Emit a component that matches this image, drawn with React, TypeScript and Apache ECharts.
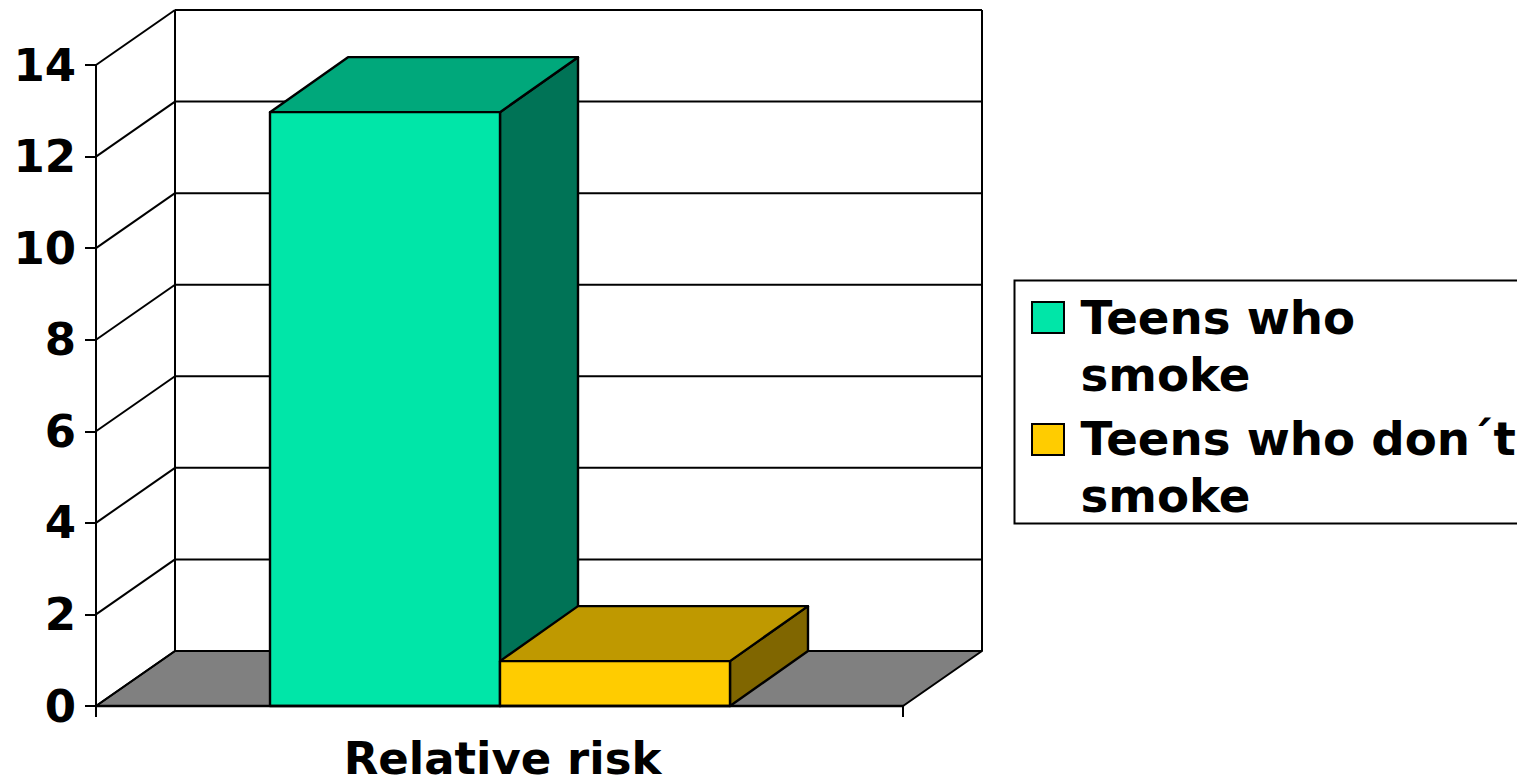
import React, { useEffect, useRef } from "react";
import * as echarts from "echarts";

const categories = ["Relative risk"];
const yMin = 0;
const yMax = 14;
const yStep = 2;
const gridValues = [0, 2, 4, 6, 8, 10, 12, 14];
const smokeValues = [12.97];
const nonSmokeValues = [0.98];
const smokeName = "Teens who smoke";
const nonSmokeName = "Teens who don´t smoke";
const legendLines = [
  ["Teens who", "smoke"],
  ["Teens who don´t", "smoke"],
];
const smokeColors = { front: "#00E6A8", top: "#00A87B", side: "#007356" };
const nonSmokeColors = { front: "#FFCC00", top: "#BF9900", side: "#806600" };

const DEPTH_X = 79;
const DEPTH_Y = 55;
const BAR_DEPTH_X = 78;
const FONT = "'DejaVu Sans', Verdana, sans-serif";
const INK = "#000";

const poly = (points: number[][], fill: string, lineWidth = 2.4) => ({
  type: "polygon",
  shape: { points },
  style: { fill, stroke: INK, lineWidth, lineJoin: "round" },
});

const bar3d = (colors: typeof smokeColors, slot: number) => (_p: any, api: any) => {
  const [cx, y0] = api.coord([api.value(0), 0]);
  const [, yTop] = api.coord([api.value(0), api.value(1)]);
  const band = api.size([1, 0])[0];
  const w = band * 0.285;
  const x0 = cx + 0.5 + (slot - 1) * w;
  const x1 = x0 + w;
  const d = BAR_DEPTH_X;
  return {
    type: "group",
    children: [
      poly([[x1, y0], [x1 + d, y0 - DEPTH_Y], [x1 + d, yTop - DEPTH_Y], [x1, yTop]], colors.side),
      poly([[x0, yTop], [x1, yTop], [x1 + d, yTop - DEPTH_Y], [x0 + d, yTop - DEPTH_Y]], colors.top),
      poly([[x0, y0], [x1, y0], [x1, yTop], [x0, yTop]], colors.front),
    ],
  };
};

const walls = (_p: any, api: any) => {
  const band = api.size([1, 0])[0];
  const cx = api.coord([0, 0])[0];
  const left = cx - band / 2;
  const right = cx + band / 2;
  const children: any[] = [];
  const y0 = api.coord([0, yMin])[1];
  const yT = api.coord([0, yMax])[1];
  children.push(
    poly([[left, y0], [right, y0], [right + DEPTH_X, y0 - DEPTH_Y], [left + DEPTH_X, y0 - DEPTH_Y]], "#808080", 2)
  );
  for (const v of gridValues) {
    const y = api.coord([0, v])[1];
    children.push({
      type: "line",
      shape: { x1: left, y1: y, x2: left + DEPTH_X, y2: y - DEPTH_Y },
      style: { stroke: INK, lineWidth: 2 },
    });
    if (v > yMin) {
      children.push({
        type: "line",
        shape: { x1: left + DEPTH_X, y1: y - DEPTH_Y, x2: right + DEPTH_X, y2: y - DEPTH_Y },
        style: { stroke: INK, lineWidth: 2 },
      });
    }
  }
  children.push({
    type: "line",
    shape: { x1: left + DEPTH_X, y1: y0 - DEPTH_Y, x2: left + DEPTH_X, y2: yT - DEPTH_Y },
    style: { stroke: INK, lineWidth: 2 },
  });
  children.push({
    type: "line",
    shape: { x1: right + DEPTH_X, y1: y0 - DEPTH_Y, x2: right + DEPTH_X, y2: yT - DEPTH_Y },
    style: { stroke: INK, lineWidth: 2 },
  });
  return { type: "group", children };
};

const legendText = (text: string, y: number) => ({
  type: "text",
  x: 1080.5,
  y,
  scaleX: 1.015,
  style: { text, font: `bold 46px ${FONT}`, fill: INK, verticalAlign: "middle" },
  z: 20,
});

export default function App() {
  const ref = useRef<HTMLDivElement>(null);
  useEffect(() => {
    document.body.style.margin = "0";
    const chart = echarts.init(ref.current!, null, { renderer: "svg" });
    chart.setOption({
      animation: false,
      backgroundColor: "#fff",
      grid: { left: 96, right: 614, top: 65, bottom: 71, containLabel: false, outerBoundsMode: "none" },
      xAxis: {
        type: "category",
        data: categories,
        z: 10,
        axisLine: { show: true, lineStyle: { color: INK, width: 2.4 } },
        axisTick: { show: true, length: 11, lineStyle: { color: INK, width: 2 } },
        axisLabel: {
          color: INK,
          fontFamily: FONT,
          fontWeight: "bold",
          fontSize: 45,
          lineHeight: 36,
          margin: 34,
          padding: [0, 0, 0, 6],
        },
      },
      yAxis: {
        type: "value",
        min: yMin,
        max: yMax,
        interval: yStep,
        z: 10,
        splitLine: { show: false },
        axisLine: { show: true, lineStyle: { color: INK, width: 2 } },
        axisTick: { show: true, length: 11, lineStyle: { color: INK, width: 2 } },
        axisLabel: {
          color: INK,
          fontFamily: FONT,
          fontWeight: "bold",
          fontSize: 45,
          margin: 20,
          padding: [8, 0, 0, 0],
        },
      },
      series: [
        {
          type: "custom",
          name: "walls",
          silent: true,
          clip: false,
          z: 1,
          renderItem: walls,
          data: [[0, yMax]],
        },
        {
          type: "custom",
          name: smokeName,
          clip: false,
          z: 2,
          renderItem: bar3d(smokeColors, 0),
          encode: { x: 0, y: 1 },
          data: smokeValues.map((v, i) => [i, v]),
        },
        {
          type: "custom",
          name: nonSmokeName,
          clip: false,
          z: 3,
          renderItem: bar3d(nonSmokeColors, 1),
          encode: { x: 0, y: 1 },
          data: nonSmokeValues.map((v, i) => [i, v]),
        },
      ],
      graphic: [
        {
          type: "rect",
          shape: { x: 1014.5, y: 280.5, width: 520, height: 243 },
          style: { fill: "#fff", stroke: INK, lineWidth: 2 },
          z: 19,
        },
        {
          type: "rect",
          shape: { x: 1032, y: 302, width: 32, height: 31 },
          style: { fill: smokeColors.front, stroke: INK, lineWidth: 2 },
          z: 20,
        },
        {
          type: "rect",
          shape: { x: 1032, y: 424, width: 32, height: 31 },
          style: { fill: nonSmokeColors.front, stroke: INK, lineWidth: 2 },
          z: 20,
        },
        legendText(legendLines[0][0], 318),
        legendText(legendLines[0][1], 375),
        legendText(legendLines[1][0], 439),
        legendText(legendLines[1][1], 496),
      ],
    });
    return () => chart.dispose();
  }, []);
  return <div ref={ref} style={{ width: 1517, height: 777 }} />;
}
